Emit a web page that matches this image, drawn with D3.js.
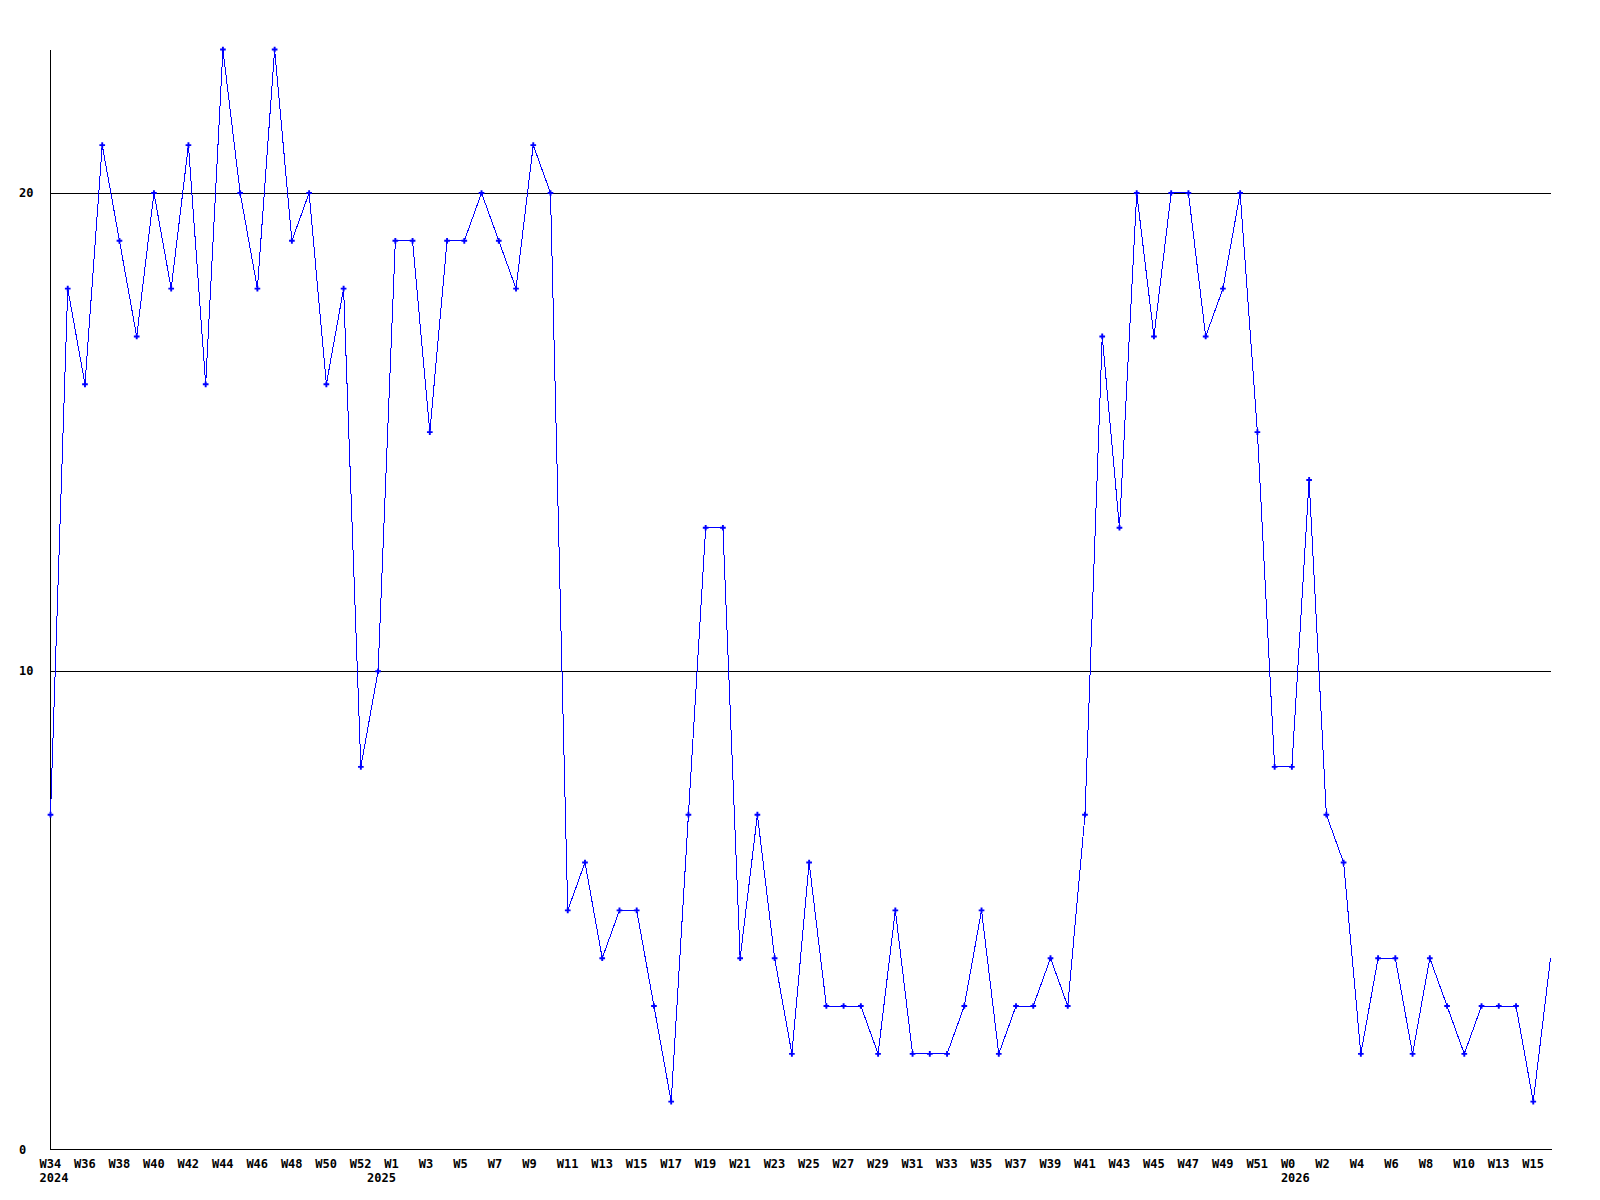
<!DOCTYPE html>
<html>
<head>
<meta charset="utf-8">
<script src="https://cdn.jsdelivr.net/npm/d3@7"></script>
<style>
  body { margin: 0; background: #fff; }
  text { font-family: "DejaVu Sans Mono", "Liberation Mono", monospace; font-weight: bold; font-size: 12px; fill: #000; }
</style>
</head>
<body>
<div id="chart"></div>
<script>
// week labels, one per data point
const weeks = [
  "W34","W35","W36","W37","W38","W39","W40","W41","W42","W43","W44","W45","W46","W47","W48","W49","W50","W51","W52",
  "W0","W1","W2","W3","W4","W5","W6","W7","W8","W9","W10","W11","W12","W13","W14","W15","W16","W17","W18","W19","W20",
  "W21","W22","W23","W24","W25","W26","W27","W28","W29","W30","W31","W32","W33","W34","W35","W36","W37","W38","W39","W40",
  "W41","W42","W43","W44","W45","W46","W47","W48","W49","W50","W51","W52",
  "W0","W1","W2","W3","W4","W5","W6","W7","W8","W9","W10","W11","W13","W14","W15","W16"
];
// year labels: index of point -> year
const yearIdx = [0, 19, 72];
const yearLabels = ["2024", "2025", "2026"];

const values = [
  7, 18, 16, 21, 19, 17, 20, 18, 21, 16, 23, 20, 18, 23, 19, 20, 16, 18, 8, 10,
  19, 19, 15, 19, 19, 20, 19, 18, 21, 20, 5, 6, 4, 5, 5, 3, 1, 7, 13, 13,
  4, 7, 4, 2, 6, 3, 3, 3, 2, 5, 2, 2, 2, 3, 5, 2, 3, 3, 4, 3,
  7, 17, 13, 20, 17, 20, 20, 17, 18, 20, 15, 8, 8, 14, 7, 6, 2, 4, 4, 2,
  4, 3, 2, 3, 3, 3, 1, 4
];

const yTicks = [0, 10, 20];
const gridLines = [10, 20];

const width = 1600, height = 1200;
const svg = d3.select("#chart").append("svg")
  .attr("width", width)
  .attr("height", height);

const x = d3.scaleLinear()
  .domain([0, values.length - 1])
  .range([50.5, 1550.5]);
const y = d3.scaleLinear()
  .domain([0, 23])
  .range([1149.5, 49.5]);

// grid lines
svg.selectAll(".grid").data(gridLines).enter()
  .append("line")
  .attr("x1", 50.5).attr("x2", 1550.5)
  .attr("y1", d => Math.round(y(d)) + 0.5).attr("y2", d => Math.round(y(d)) + 0.5)
  .attr("stroke", "#000")
  .attr("shape-rendering", "crispEdges");

// axes lines
svg.append("line")
  .attr("x1", 50.5).attr("x2", 50.5)
  .attr("y1", 49.5).attr("y2", 1149.5)
  .attr("stroke", "#000").attr("shape-rendering", "crispEdges");
svg.append("line")
  .attr("x1", 50.5).attr("x2", 1551.5)
  .attr("y1", 1149.5).attr("y2", 1149.5)
  .attr("stroke", "#000").attr("shape-rendering", "crispEdges");

// y labels
svg.selectAll(".ylab").data(yTicks).enter()
  .append("text")
  .attr("x", 19)
  .attr("y", d => y(d) + 4)
  .text(d => d);

// x labels, every second week
svg.selectAll(".xlab").data(weeks.filter((w, i) => i % 2 === 0)).enter()
  .append("text")
  .attr("x", (d, i) => x(i * 2) - 11)
  .attr("y", 1168)
  .text(d => d);

svg.selectAll(".year").data(yearIdx).enter()
  .append("text")
  .attr("x", d => x(d) - 11)
  .attr("y", 1182)
  .text((d, i) => yearLabels[i]);

// data line
const line = d3.line()
  .x((d, i) => x(i))
  .y(d => y(d));

svg.append("path")
  .datum(values)
  .attr("d", line)
  .attr("fill", "none")
  .attr("stroke", "#0000ff")
  .attr("stroke-width", 1)
  .attr("shape-rendering", "crispEdges");

// markers
const marker = d3.symbol().type(d3.symbolCross).size(18);
svg.selectAll(".pt").data(values.slice(0, -1)).enter()
  .append("path")
  .attr("d", marker)
  .attr("transform", (d, i) => `translate(${x(i)},${y(d)})`)
  .attr("fill", "#0000ff");
</script>
</body>
</html>
